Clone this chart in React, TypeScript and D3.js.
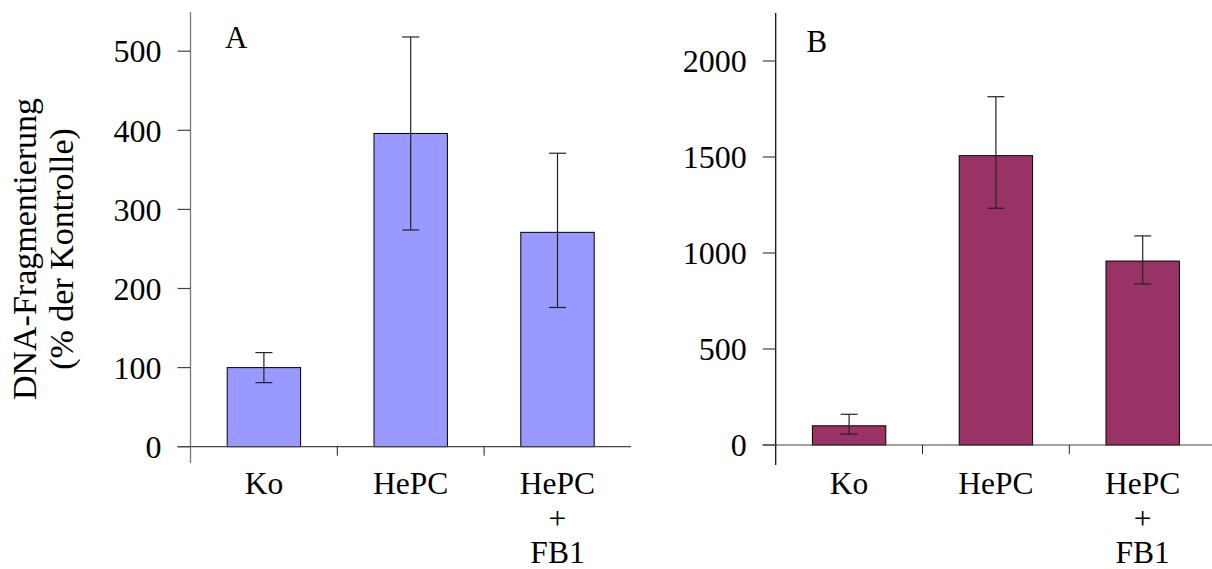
import React from "react";
import * as d3 from "d3";

const categories = ["Ko", "HePC", "HePC\n+\nFB1"];
const valuesA = [100, 396, 271];
const errUpA = [19, 122, 100];
const errDownA = [19, 122, 95];
const valuesB = [100, 1507, 958];
const errUpB = [60, 307, 131];
const errDownB = [43, 274, 119];
const ticksA = [0, 100, 200, 300, 400, 500];
const ticksB = [0, 500, 1000, 1500, 2000];

const FONT = "'Liberation Serif', 'Times New Roman', serif";

type PanelProps = {
  x0: number;
  yMax: number;
  y0: number;
  yTop: number;
  values: number[];
  errUp: number[];
  errDown: number[];
  ticks: number[];
  color: string;
  label: string;
  labelX: number;
  labelY: number;
  axisColor: string;
  axisTop: number;
  axisBottom: number;
  xEnd: number;
};

function Panel(p: PanelProps) {
  const band = 146.8;
  const x = d3
    .scaleBand<string>()
    .domain(categories)
    .range([p.x0, p.x0 + band * categories.length])
    .paddingInner(0)
    .paddingOuter(0);
  const y = d3.scaleLinear().domain([0, p.yMax]).range([p.y0, p.yTop]);
  const bw = x.bandwidth() / 2;
  const cap = 8.5;
  return (
    <g>
      {categories.map((c, i) => {
        const cx = (x(c) as number) + x.bandwidth() / 2;
        return (
          <rect
            key={"b" + i}
            x={cx - bw / 2}
            y={y(p.values[i])}
            width={bw}
            height={y(0) - y(p.values[i])}
            fill={p.color}
            stroke="#000"
            strokeWidth={1}
          />
        );
      })}
      <line x1={p.x0 - 13} x2={p.xEnd} y1={y(0)} y2={y(0)} stroke="#444" strokeWidth={1.2} />
      {categories.slice(1).map((c, i) => (
        <line
          key={"s" + i}
          x1={x(c) as number}
          x2={x(c) as number}
          y1={y(0)}
          y2={y(0) + 9}
          stroke="#222"
          strokeWidth={1}
        />
      ))}
      <line x1={p.x0} x2={p.x0} y1={p.axisTop} y2={p.axisBottom} stroke={p.axisColor} strokeWidth={1.3} />
      {p.ticks.map((t) => (
        <g key={"t" + t}>
          <line x1={p.x0 - 13} x2={p.x0} y1={y(t)} y2={y(t)} stroke="#444" strokeWidth={1.2} />
          <text
            x={p.x0 - 29}
            y={y(t)}
            dy="0.35em"
            textAnchor="end"
            fontFamily={FONT}
            fontSize={32}
            fill="#000"
          >
            {t}
          </text>
        </g>
      ))}
      {categories.map((c, i) => {
        const cx = (x(c) as number) + x.bandwidth() / 2;
        const hi = y(p.values[i] + p.errUp[i]);
        const lo = y(p.values[i] - p.errDown[i]);
        return (
          <g key={"e" + i} stroke="#222" strokeWidth={1.2}>
            <line x1={cx} x2={cx} y1={hi} y2={lo} />
            <line x1={cx - cap} x2={cx + cap} y1={hi} y2={hi} />
            <line x1={cx - cap} x2={cx + cap} y1={lo} y2={lo} />
          </g>
        );
      })}
      {categories.map((c, i) => {
        const cx = (x(c) as number) + x.bandwidth() / 2;
        const lines = c.split("\n");
        return (
          <text key={"c" + i} textAnchor="middle" fontFamily={FONT} fontSize={31.5} fill="#000">
            {lines.map((l, j) => (
              <tspan key={j} x={cx} y={494 + j * 34.5}>
                {l}
              </tspan>
            ))}
          </text>
        );
      })}
      <text x={p.labelX} y={p.labelY} fontFamily={FONT} fontSize={31} fill="#000">
        {p.label}
      </text>
    </g>
  );
}

export default function App() {
  return (
    <svg
      width={1212}
      height={569}
      style={{ position: "absolute", left: 0, top: 0, background: "#fff" }}
    >
      <rect x={0} y={0} width={1212} height={569} fill="#fff" />
      <text
        transform="translate(0,249) rotate(-90)"
        textAnchor="middle"
        fontFamily={FONT}
        fontSize={34}
        fill="#000"
      >
        <tspan x={0} y={36}>DNA-Fragmentierung</tspan>
        <tspan x={0} y={73}>(% der Kontrolle)</tspan>
      </text>
      <Panel
        x0={190.5}
        yMax={500}
        y0={446.7}
        yTop={51.2}
        values={valuesA}
        errUp={errUpA}
        errDown={errDownA}
        ticks={ticksA}
        color="#9999FF"
        label="A"
        labelX={225}
        labelY={48}
        axisColor="#777"
        axisTop={12}
        axisBottom={463}
        xEnd={631}
      />
      <Panel
        x0={775.7}
        yMax={2000}
        y0={445}
        yTop={61}
        values={valuesB}
        errUp={errUpB}
        errDown={errDownB}
        ticks={ticksB}
        color="#993366"
        label="B"
        labelX={806.5}
        labelY={52}
        axisColor="#111"
        axisTop={13}
        axisBottom={465}
        xEnd={1212}
      />
    </svg>
  );
}
